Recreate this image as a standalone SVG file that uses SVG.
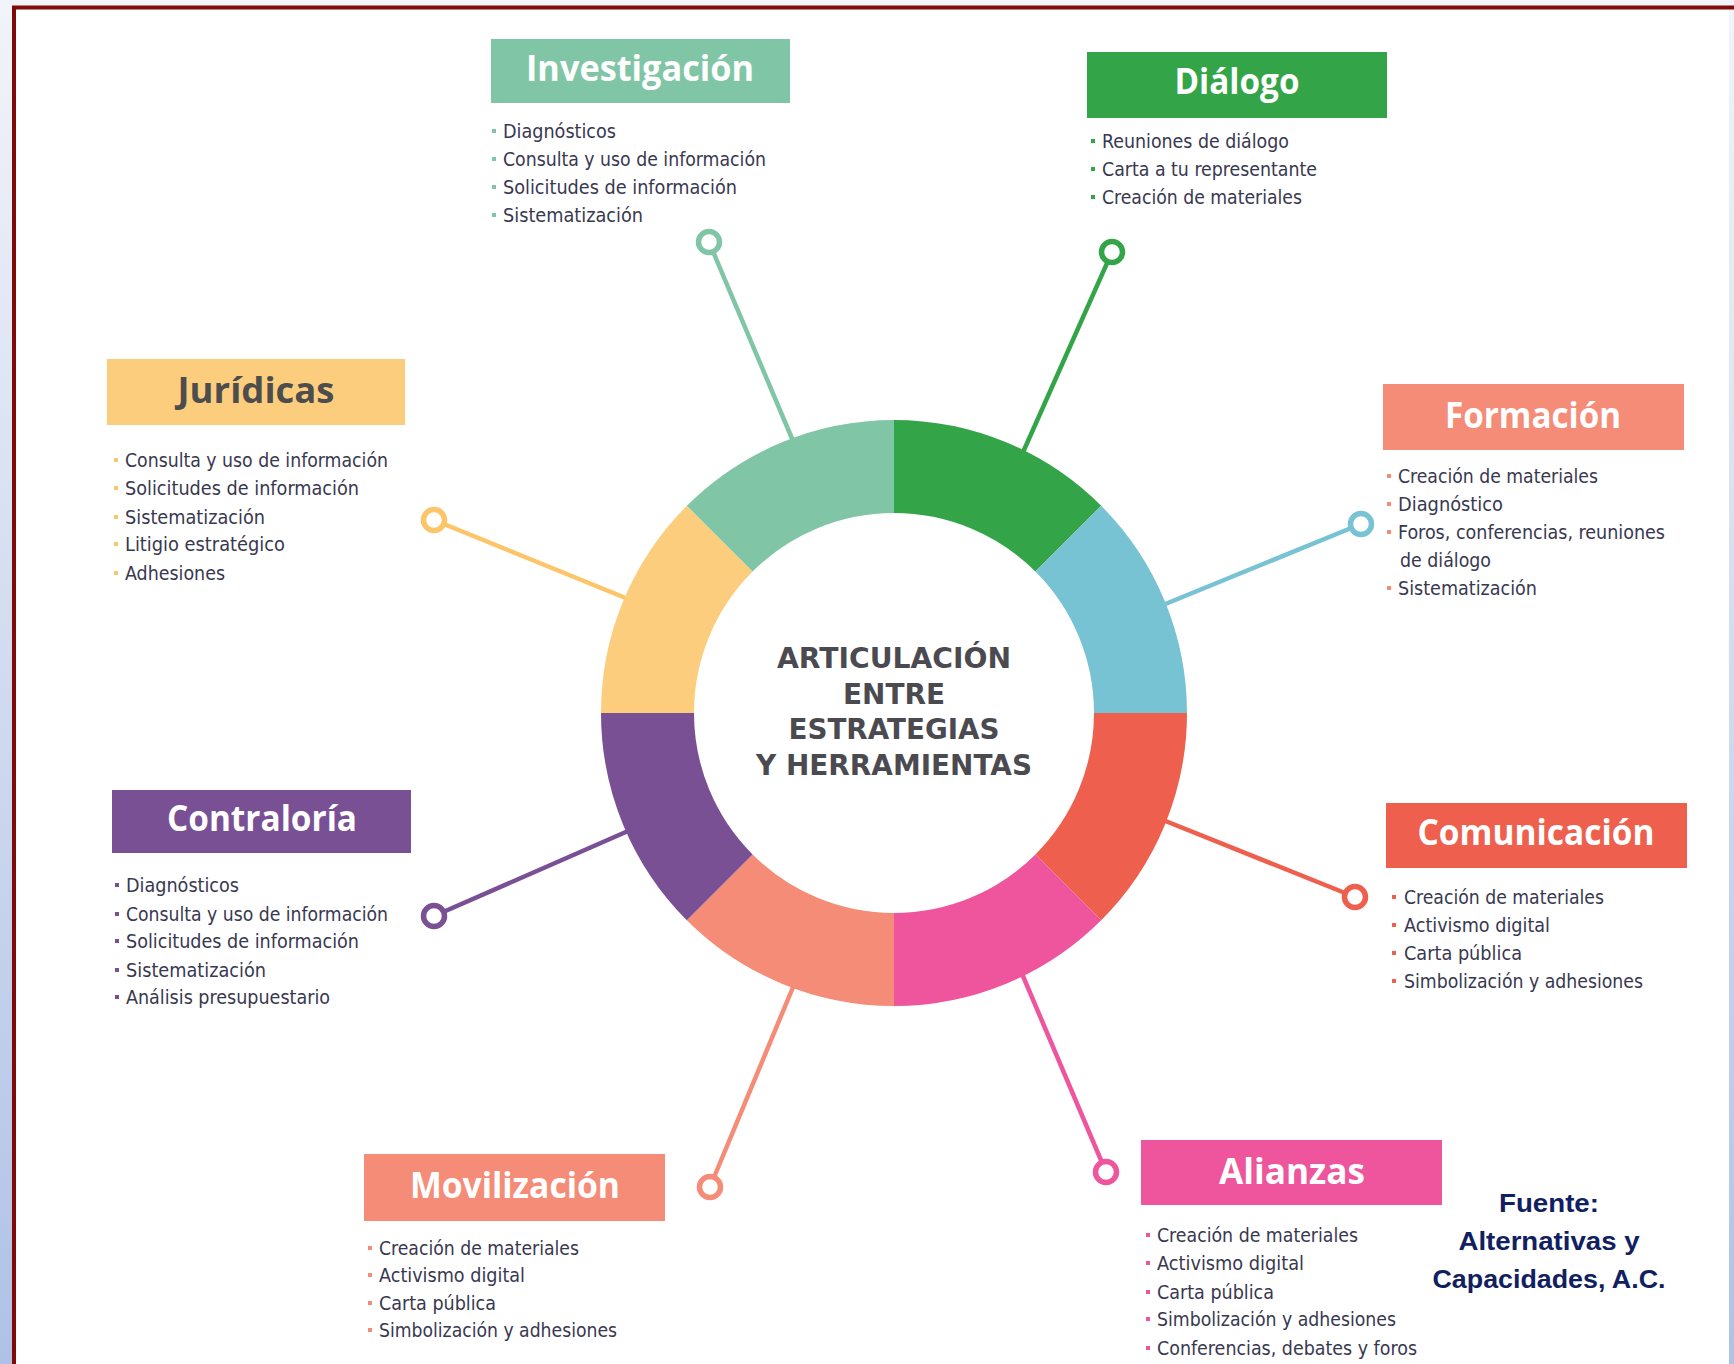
<svg xmlns="http://www.w3.org/2000/svg" width="1734" height="1364" viewBox="0 0 1734 1364">
<defs>
<linearGradient id="bg" x1="0" y1="0" x2="0" y2="1">
<stop offset="0" stop-color="#F1F4F9"/>
<stop offset="1" stop-color="#AFC2E6"/>
</linearGradient>
<style>
.title{font-family:"Open Sans","DejaVu Sans",sans-serif;font-weight:700;font-size:35px;fill:#FFFFFF;text-anchor:middle}
.item{font-family:"DejaVu Sans Condensed","DejaVu Sans",sans-serif;font-stretch:condensed;font-size:20px;fill:#383850}
.center{font-family:"DejaVu Sans","Open Sans",sans-serif;font-weight:700;font-size:28px;fill:#4A4A50;text-anchor:middle}
.src{font-family:"Liberation Sans",Arial,sans-serif;font-weight:700;font-size:26px;fill:#102060;text-anchor:middle}
.conn{stroke-width:4.5;fill:none}
.dot{fill:#FFFFFF;stroke-width:5.5}
</style>
</defs>
<rect x="0" y="0" width="1734" height="1364" fill="url(#bg)"/>
<rect x="14" y="7" width="1715" height="1360" fill="#FFFFFF"/>
<path d="M14 1364 V7.5 H1734" stroke="#7E0A0A" stroke-width="4" fill="none"/>

<g id="connectors">
<line class="conn" stroke="#80C6A6" x1="709" y1="242" x2="796" y2="448"/>
<line class="conn" stroke="#34A449" x1="1112" y1="252" x2="1020" y2="459"/>
<line class="conn" stroke="#77C2D3" x1="1361" y1="524" x2="1158" y2="607"/>
<line class="conn" stroke="#EE5F4D" x1="1355" y1="897" x2="1158" y2="818"/>
<line class="conn" stroke="#EE559C" x1="1106" y1="1172" x2="1020" y2="969"/>
<line class="conn" stroke="#F48C78" x1="710" y1="1187" x2="796" y2="980"/>
<line class="conn" stroke="#7A5095" x1="434" y1="916" x2="635" y2="828"/>
<line class="conn" stroke="#FDC56A" x1="434" y1="520" x2="633" y2="601"/>
<circle class="dot" stroke="#80C6A6" cx="709" cy="242" r="10.5"/>
<circle class="dot" stroke="#34A449" cx="1112" cy="252" r="10.5"/>
<circle class="dot" stroke="#77C2D3" cx="1361" cy="524" r="10.5"/>
<circle class="dot" stroke="#EE5F4D" cx="1355" cy="897" r="10.5"/>
<circle class="dot" stroke="#EE559C" cx="1106" cy="1172" r="10.5"/>
<circle class="dot" stroke="#F48C78" cx="710" cy="1187" r="10.5"/>
<circle class="dot" stroke="#7A5095" cx="434" cy="916" r="10.5"/>
<circle class="dot" stroke="#FDC56A" cx="434" cy="520" r="10.5"/>
</g>

<g id="ring">
<path fill="#34A449" d="M894 420 A293 293 0 0 1 1101.18 505.82 L1035.42 571.58 A200 200 0 0 0 894 513 Z"/>
<path fill="#77C2D3" d="M1101.18 505.82 A293 293 0 0 1 1187 713 L1094 713 A200 200 0 0 0 1035.42 571.58 Z"/>
<path fill="#EE5F4D" d="M1187 713 A293 293 0 0 1 1101.18 920.18 L1035.42 854.42 A200 200 0 0 0 1094 713 Z"/>
<path fill="#EE559C" d="M1101.18 920.18 A293 293 0 0 1 894 1006 L894 913 A200 200 0 0 0 1035.42 854.42 Z"/>
<path fill="#F48C78" d="M894 1006 A293 293 0 0 1 686.82 920.18 L752.58 854.42 A200 200 0 0 0 894 913 Z"/>
<path fill="#7A5095" d="M686.82 920.18 A293 293 0 0 1 601 713 L694 713 A200 200 0 0 0 752.58 854.42 Z"/>
<path fill="#FDCD7E" d="M601 713 A293 293 0 0 1 686.82 505.82 L752.58 571.58 A200 200 0 0 0 694 713 Z"/>
<path fill="#80C6A6" d="M686.82 505.82 A293 293 0 0 1 894 420 L894 513 A200 200 0 0 0 752.58 571.58 Z"/>
<text class="center" x="894" y="668" textLength="234" lengthAdjust="spacingAndGlyphs">ARTICULACIÓN</text>
<text class="center" x="894" y="704" textLength="102" lengthAdjust="spacingAndGlyphs">ENTRE</text>
<text class="center" x="894" y="739" textLength="211" lengthAdjust="spacingAndGlyphs">ESTRATEGIAS</text>
<text class="center" x="894" y="775" textLength="276" lengthAdjust="spacingAndGlyphs">Y HERRAMIENTAS</text>
</g>

<g id="investigacion">
<rect x="491" y="39" width="299" height="64" fill="#80C6A6"/>
<text class="title" x="640" y="81" textLength="228" lengthAdjust="spacingAndGlyphs">Investigación</text>
<g fill="#80C6A6"><rect x="492" y="129" width="4" height="4"/><rect x="492" y="157" width="4" height="4"/><rect x="492" y="185" width="4" height="4"/><rect x="492" y="213" width="4" height="4"/></g>
<text class="item" x="503" y="138" textLength="113" lengthAdjust="spacingAndGlyphs">Diagnósticos</text>
<text class="item" x="503" y="166" textLength="263" lengthAdjust="spacingAndGlyphs">Consulta y uso de información</text>
<text class="item" x="503" y="194" textLength="234" lengthAdjust="spacingAndGlyphs">Solicitudes de información</text>
<text class="item" x="503" y="222" textLength="140" lengthAdjust="spacingAndGlyphs">Sistematización</text>
</g>

<g id="dialogo">
<rect x="1087" y="52" width="300" height="66" fill="#34A449"/>
<text class="title" x="1237" y="94" textLength="125" lengthAdjust="spacingAndGlyphs">Diálogo</text>
<g fill="#34A449"><rect x="1091" y="139" width="4" height="4"/><rect x="1091" y="167" width="4" height="4"/><rect x="1091" y="195" width="4" height="4"/></g>
<text class="item" x="1102" y="148" textLength="187" lengthAdjust="spacingAndGlyphs">Reuniones de diálogo</text>
<text class="item" x="1102" y="176" textLength="215" lengthAdjust="spacingAndGlyphs">Carta a tu representante</text>
<text class="item" x="1102" y="204" textLength="200" lengthAdjust="spacingAndGlyphs">Creación de materiales</text>
</g>

<g id="formacion">
<rect x="1383" y="384" width="301" height="66" fill="#F48C78"/>
<text class="title" x="1533" y="428" textLength="176" lengthAdjust="spacingAndGlyphs">Formación</text>
<g fill="#F48C78"><rect x="1387" y="474" width="4" height="4"/><rect x="1387" y="502" width="4" height="4"/><rect x="1387" y="530" width="4" height="4"/><rect x="1387" y="586" width="4" height="4"/></g>
<text class="item" x="1398" y="483" textLength="200" lengthAdjust="spacingAndGlyphs">Creación de materiales</text>
<text class="item" x="1398" y="511" textLength="105" lengthAdjust="spacingAndGlyphs">Diagnóstico</text>
<text class="item" x="1398" y="539" textLength="267" lengthAdjust="spacingAndGlyphs">Foros, conferencias, reuniones</text>
<text class="item" x="1400" y="567" textLength="91" lengthAdjust="spacingAndGlyphs">de diálogo</text>
<text class="item" x="1398" y="595" textLength="139" lengthAdjust="spacingAndGlyphs">Sistematización</text>
</g>

<g id="comunicacion">
<rect x="1386" y="803" width="301" height="65" fill="#EE5F4D"/>
<text class="title" x="1536" y="845" textLength="237" lengthAdjust="spacingAndGlyphs">Comunicación</text>
<g fill="#EE5F4D"><rect x="1392" y="895" width="4" height="4"/><rect x="1392" y="923" width="4" height="4"/><rect x="1392" y="951" width="4" height="4"/><rect x="1392" y="979" width="4" height="4"/></g>
<text class="item" x="1404" y="904" textLength="200" lengthAdjust="spacingAndGlyphs">Creación de materiales</text>
<text class="item" x="1404" y="932" textLength="146" lengthAdjust="spacingAndGlyphs">Activismo digital</text>
<text class="item" x="1404" y="960" textLength="118" lengthAdjust="spacingAndGlyphs">Carta pública</text>
<text class="item" x="1404" y="988" textLength="239" lengthAdjust="spacingAndGlyphs">Simbolización y adhesiones</text>
</g>

<g id="alianzas">
<rect x="1141" y="1140" width="301" height="65" fill="#EE559C"/>
<text class="title" x="1292" y="1184" textLength="146" lengthAdjust="spacingAndGlyphs">Alianzas</text>
<g fill="#EE559C"><rect x="1146" y="1233" width="4" height="4"/><rect x="1146" y="1261" width="4" height="4"/><rect x="1146" y="1290" width="4" height="4"/><rect x="1146" y="1317" width="4" height="4"/><rect x="1146" y="1346" width="4" height="4"/></g>
<text class="item" x="1157" y="1242" textLength="201" lengthAdjust="spacingAndGlyphs">Creación de materiales</text>
<text class="item" x="1157" y="1270" textLength="147" lengthAdjust="spacingAndGlyphs">Activismo digital</text>
<text class="item" x="1157" y="1299" textLength="117" lengthAdjust="spacingAndGlyphs">Carta pública</text>
<text class="item" x="1157" y="1326" textLength="239" lengthAdjust="spacingAndGlyphs">Simbolización y adhesiones</text>
<text class="item" x="1157" y="1355" textLength="260" lengthAdjust="spacingAndGlyphs">Conferencias, debates y foros</text>
</g>

<g id="movilizacion">
<rect x="364" y="1154" width="301" height="67" fill="#F48C78"/>
<text class="title" x="515" y="1198" textLength="210" lengthAdjust="spacingAndGlyphs">Movilización</text>
<g fill="#F48C78"><rect x="368" y="1246" width="4" height="4"/><rect x="368" y="1273" width="4" height="4"/><rect x="368" y="1301" width="4" height="4"/><rect x="368" y="1328" width="4" height="4"/></g>
<text class="item" x="379" y="1255" textLength="200" lengthAdjust="spacingAndGlyphs">Creación de materiales</text>
<text class="item" x="379" y="1282" textLength="146" lengthAdjust="spacingAndGlyphs">Activismo digital</text>
<text class="item" x="379" y="1310" textLength="117" lengthAdjust="spacingAndGlyphs">Carta pública</text>
<text class="item" x="379" y="1337" textLength="238" lengthAdjust="spacingAndGlyphs">Simbolización y adhesiones</text>
</g>

<g id="contraloria">
<rect x="112" y="790" width="299" height="63" fill="#7A5095"/>
<text class="title" x="262" y="831" textLength="190" lengthAdjust="spacingAndGlyphs">Contraloría</text>
<g fill="#7A5095"><rect x="115" y="883" width="4" height="4"/><rect x="115" y="912" width="4" height="4"/><rect x="115" y="939" width="4" height="4"/><rect x="115" y="968" width="4" height="4"/><rect x="115" y="995" width="4" height="4"/></g>
<text class="item" x="126" y="892" textLength="113" lengthAdjust="spacingAndGlyphs">Diagnósticos</text>
<text class="item" x="126" y="921" textLength="262" lengthAdjust="spacingAndGlyphs">Consulta y uso de información</text>
<text class="item" x="126" y="948" textLength="233" lengthAdjust="spacingAndGlyphs">Solicitudes de información</text>
<text class="item" x="126" y="977" textLength="140" lengthAdjust="spacingAndGlyphs">Sistematización</text>
<text class="item" x="126" y="1004" textLength="204" lengthAdjust="spacingAndGlyphs">Análisis presupuestario</text>
</g>

<g id="juridicas">
<rect x="107" y="359" width="298" height="66" fill="#FDCD7E"/>
<text class="title" x="256" y="403" textLength="157" lengthAdjust="spacingAndGlyphs" style="fill:#4D4D4D">Jurídicas</text>
<g fill="#FDC56A"><rect x="114" y="458" width="4" height="4"/><rect x="114" y="486" width="4" height="4"/><rect x="114" y="515" width="4" height="4"/><rect x="114" y="542" width="4" height="4"/><rect x="114" y="571" width="4" height="4"/></g>
<text class="item" x="125" y="467" textLength="263" lengthAdjust="spacingAndGlyphs">Consulta y uso de información</text>
<text class="item" x="125" y="495" textLength="234" lengthAdjust="spacingAndGlyphs">Solicitudes de información</text>
<text class="item" x="125" y="524" textLength="140" lengthAdjust="spacingAndGlyphs">Sistematización</text>
<text class="item" x="125" y="551" textLength="160" lengthAdjust="spacingAndGlyphs">Litigio estratégico</text>
<text class="item" x="125" y="580" textLength="100" lengthAdjust="spacingAndGlyphs">Adhesiones</text>
</g>

<g id="fuente">
<text class="src" x="1549" y="1212" textLength="100" lengthAdjust="spacingAndGlyphs">Fuente:</text>
<text class="src" x="1549" y="1250" textLength="181" lengthAdjust="spacingAndGlyphs">Alternativas y</text>
<text class="src" x="1549" y="1288" textLength="233" lengthAdjust="spacingAndGlyphs">Capacidades, A.C.</text>
</g>
</svg>
